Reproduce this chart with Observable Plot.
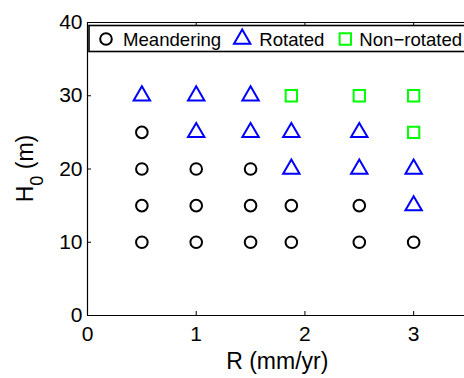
<!DOCTYPE html>
<html>
<head>
<meta charset="utf-8">
<script src="https://cdn.jsdelivr.net/npm/d3@7"></script>
<script src="https://cdn.jsdelivr.net/npm/@observablehq/plot@0.6"></script>
<style>
  html, body { margin: 0; padding: 0; background: #fff; overflow: hidden; width: 464px; height: 378px; }
  #chart svg { display: block; max-width: none !important; overflow: hidden; }
</style>
</head>
<body>
<div id="chart"></div>
<script>
// Regime observed for each (uplift rate R, initial relief H0) run
const regimes = ["Meandering", "Rotated", "Non\u2212rotated"];

const R_meandering = [0.5, 0.5, 0.5, 0.5, 1, 1, 1, 1.5, 1.5, 1.5, 1.875, 1.875, 2.5, 2.5, 3];
const H_meandering = [10, 15, 20, 25, 10, 15, 20, 10, 15, 20, 10, 15, 10, 15, 10];

const R_rotated = [0.5, 1, 1, 1.5, 1.5, 1.875, 1.875, 2.5, 2.5, 3, 3];
const H_rotated = [30, 25, 30, 25, 30, 20, 25, 20, 25, 15, 20];

const R_nonrotated = [1.875, 2.5, 3, 3];
const H_nonrotated = [30, 30, 25, 30];

const xTicks = [0, 1, 2, 3];
const yTicks = [0, 10, 20, 30, 40];
const xDomain = [0, 3.5];
const yDomain = [0, 40];

const xLabel = "R (mm/yr)";

const toRows = (rs, hs) => rs.map((R, i) => ({R, H: hs[i]}));
const meandering = toRows(R_meandering, H_meandering);
const rotated = toRows(R_rotated, H_rotated);
const nonrotated = toRows(R_nonrotated, H_nonrotated);

// marker styles per regime
const styles = [
  {symbol: "circle", r: 5.8, stroke: "#000000", d3type: d3.symbolCircle},
  {symbol: "triangle", r: 6.1, stroke: "#0000ff", d3type: d3.symbolTriangle},
  {symbol: "square", r: 6.4, stroke: "#00ff00", d3type: d3.symbolSquare}
];

const font = "'Liberation Sans', Arial, Helvetica, sans-serif";

// the axes run to R = 3.5, a little past the right edge of the drawing
const chart = Plot.plot({
  width: 464,
  height: 378,
  marginLeft: 87,
  marginRight: -3.5,
  marginTop: 22,
  marginBottom: 63,
  x: {domain: xDomain},
  y: {domain: yDomain},
  style: {fontFamily: font, fontSize: "21px", background: "white", color: "black", maxWidth: "none"},
  marks: [
    // box lines: bottom, top and left edges of the axes
    Plot.ruleY(yDomain, {stroke: "black", strokeWidth: 1.2}),
    Plot.ruleX([xDomain[0]], {stroke: "black", strokeWidth: 1.2}),
    Plot.axisX(xTicks, {anchor: "bottom", tickSize: -4, tickPadding: 15, fontSize: 21, label: null}),
    Plot.axisX(xTicks.slice(1), {anchor: "top", tickSize: -4, tickFormat: () => "", label: null}),
    Plot.axisY(yTicks, {anchor: "left", tickSize: -4, tickPadding: 9, fontSize: 21, label: null}),
    Plot.dot(meandering, {x: "R", y: "H", symbol: styles[0].symbol, r: styles[0].r, stroke: styles[0].stroke, strokeWidth: 2, fill: "none"}),
    Plot.dot(rotated, {x: "R", y: "H", symbol: styles[1].symbol, r: styles[1].r, stroke: styles[1].stroke, strokeWidth: 2, fill: "none"}),
    Plot.dot(nonrotated, {x: "R", y: "H", symbol: styles[2].symbol, r: styles[2].r, stroke: styles[2].stroke, strokeWidth: 2, fill: "none"})
  ]
});

document.getElementById("chart").appendChild(chart);

const svg = d3.select(chart);
const xr = chart.scale("x").range;
const yr = chart.scale("y").range;
const xMid = (xr[0] + xr[1]) / 2;
const yMid = (yr[0] + yr[1]) / 2;

// axis titles
svg.append("text")
  .attr("x", xMid).attr("y", 369)
  .attr("text-anchor", "middle")
  .attr("font-family", font).attr("font-size", 23)
  .attr("fill", "black")
  .text(xLabel);

const yTitle = svg.append("text")
  .attr("transform", `translate(32.5,${yMid}) rotate(-90)`)
  .attr("text-anchor", "middle")
  .attr("font-family", font).attr("font-size", 23)
  .attr("fill", "black");
yTitle.append("tspan").text("H");
yTitle.append("tspan").attr("dy", 10).attr("font-size", 18).text("0");
yTitle.append("tspan").attr("dy", -10).text(" (m)");

// legend box inside the top of the axes
const lx = xr[0] + 2, ly = yr[1] + 3.5;
const legend = svg.append("g").attr("text-anchor", "start");
legend.append("rect")
  .attr("x", lx).attr("y", ly)
  .attr("width", 420).attr("height", 26)
  .attr("fill", "white").attr("stroke", "black").attr("stroke-width", 1.6);

let cx = lx + 17;
regimes.forEach((name, i) => {
  const s = styles[i];
  legend.append("path")
    .attr("transform", `translate(${cx},${ly + 13.5})`)
    .attr("d", d3.symbol().type(s.d3type).size(Math.PI * s.r * s.r)())
    .attr("fill", "none").attr("stroke", s.stroke).attr("stroke-width", 2);
  const gap = i === 2 ? 14 : 17;
  const t = legend.append("text")
    .attr("x", cx + gap).attr("y", ly + 20.5)
    .attr("text-anchor", "start")
    .attr("font-family", font).attr("font-size", 18.6)
    .attr("fill", "black")
    .text(name);
  const w = t.node().getComputedTextLength();
  cx = cx + gap + w + 21;
});
</script>
</body>
</html>
